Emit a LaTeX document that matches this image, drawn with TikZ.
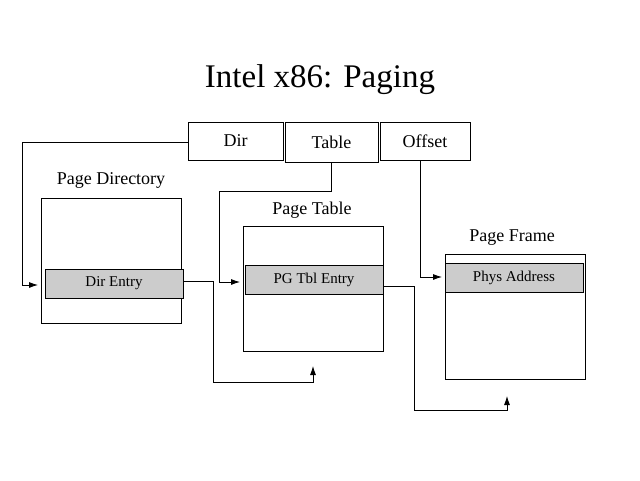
\documentclass[tikz,border=0pt]{standalone}
\usepackage{fontspec}
\setmainfont{Liberation Serif}
\usetikzlibrary{arrows.meta}

\tikzset{
  field/.style={draw,thick,inner sep=0pt},
  entry/.style={draw,thick,fill=black!20,inner sep=0pt,font=\fontsize{15}{17}\selectfont},
  table/.style={draw,thick},
  label/.style={font=\fontsize{18}{20}\selectfont},
  link/.style={thick,-{Latex[length=9pt,width=6pt]}}
}

\begin{document}
\begin{tikzpicture}[x=1pt,y=-1pt]

\useasboundingbox (0,0) rectangle (640,480);

\node [font=\fontsize{33}{36}\selectfont] (title) at (320,80) {Intel x86: Paging};

% address fields
\draw [field] (188,122) rectangle (283,160);
\draw [field] (285,122) rectangle (378,162);
\draw [field] (380,122) rectangle (470,160);
\node [label] (dir) at (235.5,141) {Dir};
\node [label] (tbl) at (331.5,142) {Table};
\node [label] (off) at (425,141) {Offset};

% page directory
\node [label] (pdlabel) at (111,180) {Page Directory};
\draw [table] (41,198) rectangle (181,323);
\draw [entry] (45,269) rectangle (183,298);
\node [font=\fontsize{15}{17}\selectfont] (dirent) at (114,283.5) {Dir Entry};

% page table
\node [label] (ptlabel) at (312,210) {Page Table};
\draw [table] (243,226) rectangle (383,351);
\draw [entry] (245,265) rectangle (383,294);
\node [font=\fontsize{15}{17}\selectfont] (tblent) at (314,279.5) {PG Tbl Entry};

% page frame
\node [label] (pflabel) at (512,238) {Page Frame};
\draw [table] (445,254) rectangle (585,379);
\draw [entry] (445,263) rectangle (583,292);
\node [font=\fontsize{15}{17}\selectfont] (phys) at (514,277.5) {Phys Address};

% links
\draw [link] (188,142) -- (22,142) -- (22,285) -- (38,285);
\draw [link] (331,162) -- (331,191) -- (219,191) -- (219,282) -- (240,282);
\draw [link] (420,160) -- (420,277) -- (442,277);
\draw [link] (183,281) -- (213,281) -- (213,382) -- (313,382) -- (313,366);
\draw [link] (383,286) -- (414,286) -- (414,410) -- (507,410) -- (507,396);

\end{tikzpicture}
\end{document}
